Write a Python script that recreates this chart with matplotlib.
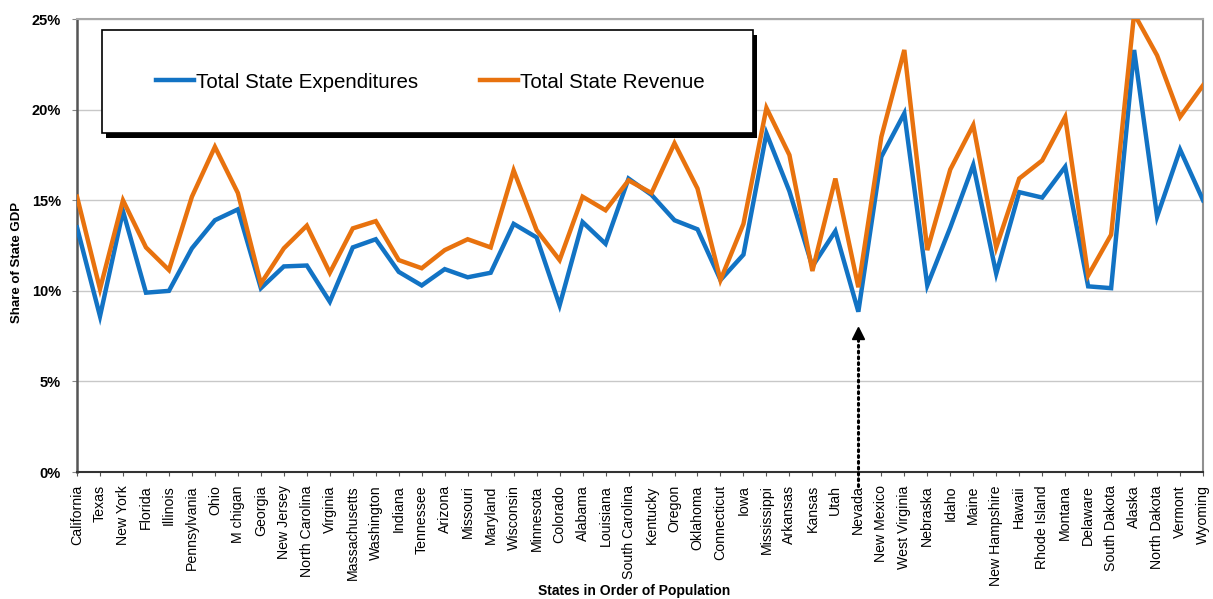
import numpy as np
import matplotlib.pyplot as plt
from matplotlib.patches import Rectangle

plt.rcParams['font.family'] = ['Liberation Sans', 'DejaVu Sans']

# States in order of population
states = ['California', 'Texas', 'New York', 'Florida', 'Illinois', 'Pennsylvania', 'Ohio',
          'M chigan', 'Georgia', 'New Jersey', 'North Carolina', 'Virginia', 'Massachusetts',
          'Washington', 'Indiana', 'Tennessee', 'Arizona', 'Missouri', 'Maryland', 'Wisconsin',
          'Minnesota', 'Colorado', 'Alabama', 'Louisiana', 'South Carolina', 'Kentucky', 'Oregon',
          'Oklahoma', 'Connecticut', 'Iowa', 'Mississippi', 'Arkansas', 'Kansas', 'Utah', 'Nevada',
          'New Mexico', 'West Virginia', 'Nebraska', 'Idaho', 'Maine', 'New Hampshire', 'Hawaii',
          'Rhode Island', 'Montana', 'Delaware', 'South Dakota', 'Alaska', 'North Dakota',
          'Vermont', 'Wyoming']

# Share of state GDP (%)
expenditures = [13.5, 8.6, 14.4, 9.9, 10.0, 12.35, 13.9, 14.5, 10.15, 11.35, 11.4, 9.4, 12.4,
                12.85, 11.05, 10.3, 11.2, 10.75, 11.0, 13.7, 12.95, 9.2, 13.8, 12.6, 16.2, 15.3,
                13.9, 13.4, 10.6, 12.0, 18.7, 15.5, 11.35, 13.3, 8.85, 17.4, 19.8, 10.3, 13.5,
                16.95, 10.95, 15.45, 15.15, 16.85, 10.25, 10.15, 23.3, 14.1, 17.8, 15.0]
revenue = [15.2, 10.1, 15.0, 12.4, 11.15, 15.2, 17.95, 15.4, 10.4, 12.35, 13.6, 11.0, 13.45,
           13.85, 11.7, 11.25, 12.25, 12.85, 12.4, 16.65, 13.35, 11.7, 15.2, 14.45, 16.1, 15.4,
           18.15, 15.65, 10.6, 13.7, 20.1, 17.5, 11.1, 16.2, 10.2, 18.5, 23.3, 12.25, 16.7,
           19.15, 12.4, 16.2, 17.2, 19.6, 10.85, 13.1, 25.3, 23.0, 19.6, 21.35]

annotated_state = 'Nevada'
arrow_tip = 7.95

x = np.arange(len(states))

fig = plt.figure(figsize=(12.13, 5.99), dpi=100)
ax = fig.add_axes([0.0635, 0.212, 0.9283, 0.756])

ax.plot(x, expenditures, color='#1273c4', lw=3.2, label='Total State Expenditures',
        solid_joinstyle='miter', zorder=3)
ax.plot(x, revenue, color='#e8720e', lw=3.2, label='Total State Revenue',
        solid_joinstyle='miter', zorder=3)

ax.set_xlim(0, len(states) - 1)
ax.set_ylim(0, 25)
ax.set_yticks([0, 5, 10, 15, 20, 25])
ax.set_yticklabels([f'{v}%' for v in [0, 5, 10, 15, 20, 25]], fontsize=10.5, fontweight='bold')
ax.set_xticks(x)
ax.set_xticklabels(states, rotation=90, fontsize=10.2)
ax.tick_params(axis='x', length=3, pad=6.5, color='#555555')
ax.tick_params(axis='y', length=3.5, pad=8, color='#888888')
ax.grid(axis='y', color='#c8c8c8', lw=1)
ax.set_axisbelow(True)

for side, col, w in [('left', '#555555', 1.8), ('bottom', '#333333', 1.5),
                     ('top', '#a8a8a8', 1.5), ('right', '#909090', 1.5)]:
    ax.spines[side].set_color(col)
    ax.spines[side].set_linewidth(w)

fig.text(17 / 1213, 1 - 262 / 599, 'Share of State GDP', rotation=90, fontsize=9.5,
         fontweight='bold', ha='center', va='center')
fig.text(634 / 1213, 1 - 591 / 599, 'States in Order of Population', fontsize=10,
         fontweight='bold', ha='center', va='center')

# legend box with black drop shadow
ax.add_patch(Rectangle((0.026, 0.737), 0.578, 0.228, transform=ax.transAxes,
                       facecolor='black', edgecolor='none', zorder=4, clip_on=False))
ax.add_patch(Rectangle((0.022, 0.748), 0.578, 0.228, transform=ax.transAxes,
                       facecolor='white', edgecolor='black', lw=1.2, zorder=5, clip_on=False))
leg = ax.legend(loc='center', bbox_to_anchor=(0.314, 0.861), ncol=2, frameon=False,
                fontsize=14.8, handlelength=1.85, handletextpad=0.1, columnspacing=3.0)
leg.set_zorder(6)

# dotted arrow pointing at Nevada
nx = states.index(annotated_state)
ax.plot([nx, nx], [-0.75, arrow_tip - 0.3], color='black', lw=2.2,
        linestyle=(0, (0.6, 1.3)), dash_capstyle='round', clip_on=False, zorder=6)
ax.plot([nx], [arrow_tip - 0.25], marker='^', ms=8.5, color='black', clip_on=False, zorder=6)

fig.savefig('out.png', dpi=100)
